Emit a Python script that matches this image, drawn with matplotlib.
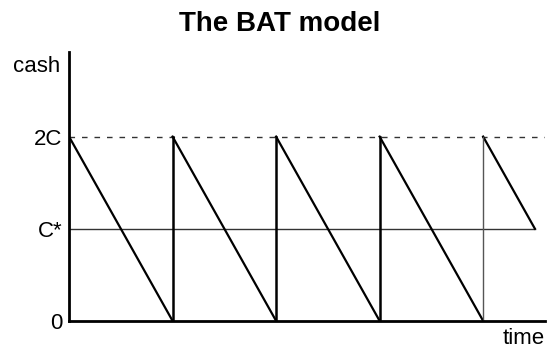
import matplotlib
matplotlib.use("Agg")
import matplotlib.pyplot as plt

# Data
cycle_start = [0, 1, 2, 3, 4]
cycle_end = [1, 2, 3, 4, 4.5]
cash_start = [2, 2, 2, 2, 2]
cash_end = [0, 0, 0, 0, 1]
reset_times = [1, 2, 3, 4]
peak_level = 2        # 2C
avg_level = 1         # C*
ytick_values = [0, 1, 2]
ytick_labels = ["0", "C*", "2C"]
title = "The BAT model"

plt.rcParams['font.family'] = ['Liberation Sans', 'DejaVu Sans']

fig = plt.figure(figsize=(5.48, 3.48), dpi=100)
ax = fig.add_axes([0.126, 0.078, 0.869, 0.773])

x_max = 4.6
ax.set_xlim(0, x_max)
ax.set_ylim(0, 2.92)

# reference lines
ax.plot([0, x_max], [peak_level, peak_level], color="#333333", lw=1.0,
        linestyle=(0, (4, 5)))
ax.plot([0, cycle_end[-1]], [avg_level, avg_level], color="#333333", lw=1.0)

# sawtooth slopes
for x0, x1, y0, y1 in zip(cycle_start, cycle_end, cash_start, cash_end):
    ax.plot([x0, x1], [y0, y1], color="black", lw=1.6)

# vertical replenishments
for i, t in enumerate(reset_times):
    last = i == len(reset_times) - 1
    ax.plot([t, t], [0, peak_level], color="#555555" if last else "black",
            lw=1.0 if last else 1.8)

for s in ["top", "right"]:
    ax.spines[s].set_visible(False)
for s in ["left", "bottom"]:
    ax.spines[s].set_linewidth(2)
    ax.spines[s].set_color("black")

ax.set_xticks([])
ax.set_yticks(ytick_values)
ax.set_yticklabels(ytick_labels, fontsize=16)
ax.tick_params(axis="y", length=0, pad=5)

fig.text(37 / 548, 1 - 66 / 348, "cash", fontsize=16, ha="center", va="center")
fig.text(524 / 548, 1 - 338 / 348, "time", fontsize=16, ha="center", va="center")
fig.text(280 / 548, 1 - 24 / 348, title, fontsize=20, fontweight="bold",
         ha="center", va="center")

fig.savefig("out.png", dpi=100)
